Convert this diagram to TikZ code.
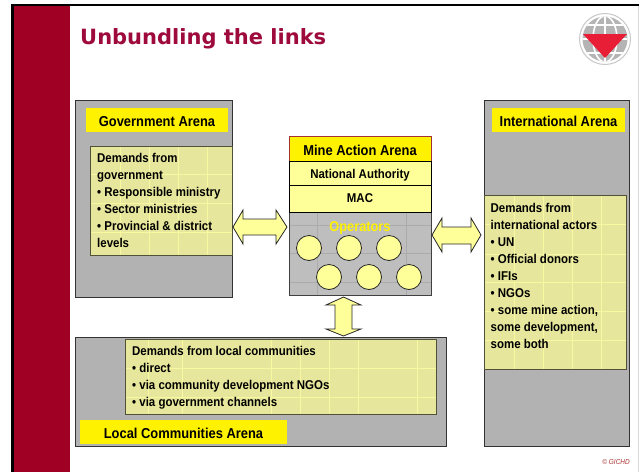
\documentclass[tikz,border=0pt]{standalone}
\usepackage{fontspec}
\setmainfont[FakeStretch=0.9]{Liberation Sans}
\newfontfamily\titlefont{DejaVu Sans}
\definecolor{bandred}{HTML}{A00024}
\definecolor{titlered}{HTML}{9E0A3C}
\definecolor{arena}{HTML}{B2B2B2}
\definecolor{opsgray}{HTML}{BEBEBE}
\definecolor{opsline}{HTML}{ABABAB}
\definecolor{demand}{HTML}{E6E69C}
\definecolor{demandline}{HTML}{F8F8A0}
\definecolor{paley}{HTML}{FFFF99}
\definecolor{logored}{HTML}{E81E36}
\definecolor{logogray}{HTML}{B4B4B4}
\tikzset{
 lowbig/.style={text height=14.5pt,text depth=1.3pt},
 arenabox/.style={draw=black!80,line width=1pt,fill=arena},
 labelbox/.style={fill=yellow,inner sep=0pt,font=\fontsize{14.35}{16}\bfseries\selectfont,anchor=center,lowbig},
 demandbox/.style={draw=black!65!demand,line width=1pt},
 demandtext/.style={inner sep=0pt,anchor=north west,align=left,font=\fontsize{12.75}{16.9}\bfseries\selectfont},
 tier/.style={draw=black,line width=.8pt,fill=paley},
 tiertext/.style={inner sep=0pt,font=\fontsize{12.75}{15}\bfseries\selectfont},
 opcircle/.style={circle,draw=black!85,line width=.8pt,fill=paley,minimum size=25pt,inner sep=0pt},
 blockarrow/.style={draw=black!85,line width=.8pt,fill=paley,line join=miter},
 gridl/.style={demandline,line width=.6pt},
}
\begin{document}
\begin{tikzpicture}[x=1pt,y=-1pt]
\useasboundingbox (0,0) rectangle (639,472);
\fill[white] (0,0) rectangle (639,472);
% frame and band
\fill[bandred] (14,6) rectangle (70,472);
\fill[black] (11,4) rectangle (639,6);
\fill[black] (11,4) rectangle (14,472);
\fill[black!15] (637.5,6) rectangle (639,472);
\node[inner sep=0pt,anchor=west,text=titlered,font=\titlefont\fontsize{21}{24}\bfseries\selectfont] (title) at (80,38.5) {Unbundling the links};
% logo
\fill[white,draw=black!22,line width=1pt] (605,39) circle (25.5);
\begin{scope}
\clip (605,39) circle (22.5);
\fill[logogray] (580,14) rectangle (630,64);
\draw[white,line width=1.6pt] (605,14) -- (605,64);
\draw[white,line width=1.6pt] (605,39) ellipse (12 and 23);
\draw[white,line width=1.6pt] (580,25) -- (630,25) (580,39) -- (630,39) (580,53) -- (630,53);
\end{scope}
\fill[logored] (583,34) -- (627,34) -- (605,58) -- cycle;
% government arena
\draw[arenabox] (75,100) rectangle (232.5,297);
\node[labelbox,minimum width=142pt,minimum height=24pt] (govlabel) at (157,120) {Government Arena};
\fill[demand] (90.5,146) rectangle (232,255);
\draw[gridl] (120,146)--(120,255) (149,146)--(149,255) (178,146)--(178,255) (207,146)--(207,255) (90.5,174)--(232,174) (90.5,203)--(232,203) (90.5,232)--(232,232);
\draw[demandbox] (90.5,146) rectangle (232,255);
\node[demandtext] (govtext) at (97,153.5) {Demands from\\government\\• Responsible ministry\\• Sector ministries\\• Provincial \& district\\levels};
% mine action arena
\fill[opsgray] (289,212) rectangle (431,295);
\draw[opsline,line width=.5pt] (317,212)--(317,295) (406,212)--(406,295) (289,225)--(431,225) (289,253)--(431,253) (289,282)--(431,282);
\draw[draw=black!75,line width=1pt] (289,212) rectangle (431,295);
\node[tier,fill=yellow,draw=red!55!black!80,minimum width=142pt,minimum height=25pt,inner sep=0pt,tiertext,font=\fontsize{14.35}{16}\bfseries\selectfont,lowbig] (mine) at (360,148.5) {Mine Action Arena};
\node[tier,minimum width=142pt,minimum height=24pt,inner sep=0pt,tiertext,text height=12.5pt,text depth=1.3pt] (natauth) at (360,173) {National Authority};
\node[tier,minimum width=142pt,minimum height=27pt,inner sep=0pt,tiertext] (mac) at (360,198.5) {MAC};
\node[tiertext,text=yellow,font=\fontsize{14.2}{16}\bfseries\selectfont] (ops) at (360,228) {Operators};
\node[opcircle] (c1) at (309,248) {};
\node[opcircle] (c2) at (349,248) {};
\node[opcircle] (c3) at (389,248) {};
\node[opcircle] (c4) at (329,277) {};
\node[opcircle] (c5) at (369,277) {};
\node[opcircle] (c6) at (409,277) {};
% international arena
\draw[arenabox] (484,100) rectangle (629,446);
\node[labelbox,minimum width=133pt,minimum height=24pt] (intlabel) at (558.5,120) {International Arena};
\fill[demand] (484.5,195) rectangle (626,369);
\draw[gridl] (514,195)--(514,369) (543,195)--(543,369) (572,195)--(572,369) (601,195)--(601,369) (484.5,224)--(626,224) (484.5,254)--(626,254) (484.5,282)--(626,282) (484.5,311)--(626,311) (484.5,340)--(626,340);
\draw[demandbox] (484.5,195) rectangle (626,369);
\node[demandtext] (inttext) at (490.5,203.5) {Demands from\\international actors\\• UN\\• Official donors\\• IFIs\\• NGOs\\• some mine action,\\some development,\\some both};
% local communities arena
\draw[arenabox] (75.5,337) rectangle (446,446);
\fill[demand] (125,339) rectangle (436,414);
\draw[gridl] (148,339)--(148,414) (182,339)--(182,414) (271,339)--(271,414) (300,339)--(300,414) (329,339)--(329,414) (358,339)--(358,414) (417,339)--(417,414) (125,368)--(436,368) (125,397)--(436,397);
\draw[demandbox] (125,339) rectangle (436,414);
\node[demandtext] (loctext) at (132,346.5) {Demands from local communities\\• direct\\• via community development NGOs\\• via government channels};
\node[labelbox,minimum width=207pt,minimum height=24pt] (loclabel) at (183.5,432) {Local Communities Arena};
% block arrows
\draw[blockarrow] (233,227)--(243,210)--(243,219)--(276,219)--(276,210)--(287,227)--(276,244)--(276,235)--(243,235)--(243,244)--cycle;
\draw[blockarrow] (432,235)--(442,218)--(442,227)--(471,227)--(471,218)--(481,235)--(471,252)--(471,244)--(442,244)--(442,252)--cycle;
\draw[blockarrow] (343.5,297)--(361,305)--(352,305)--(352,329)--(361,329)--(343.5,336)--(326,329)--(335,329)--(335,305)--(326,305)--cycle;
\node[inner sep=0pt,anchor=east,text=red!60!black!80,font=\fontsize{7.2}{8}\itshape\selectfont] (copy) at (630,462.5) {© GICHD};
\end{tikzpicture}
\end{document}
